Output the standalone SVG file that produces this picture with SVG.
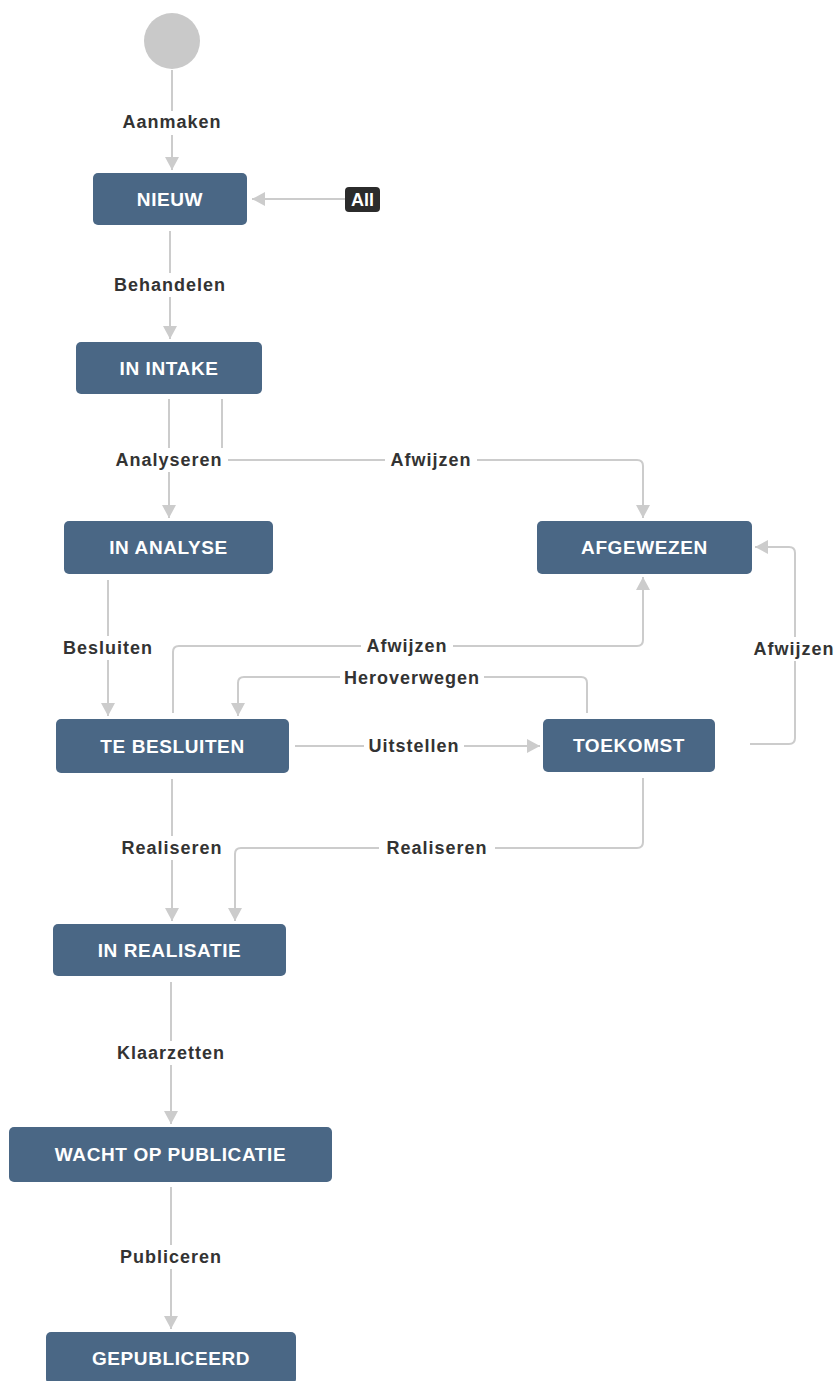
<svg xmlns="http://www.w3.org/2000/svg" width="838" height="1381" viewBox="0 0 838 1381">
<style>
.node rect{fill:#4a6785;}
.node text{fill:#fff;font-family:"Liberation Sans",Arial,sans-serif;font-weight:bold;font-size:19px;letter-spacing:0.6px;text-anchor:middle;}
.edge{fill:none;stroke:#cccccc;stroke-width:2;}
.lbl rect{fill:#fff;}
.lbl text{fill:#333;font-family:"Liberation Sans",Arial,sans-serif;font-weight:bold;font-size:18px;letter-spacing:1px;text-anchor:middle;}
</style>
<defs>
<marker id="arr" markerUnits="userSpaceOnUse" markerWidth="13" markerHeight="14" viewBox="0 0 13 14" refX="13" refY="7" orient="auto">
<path d="M0,0 L13,7 L0,14 z" fill="#cccccc"/>
</marker>
</defs>
<rect width="838" height="1381" fill="#fff"/>

<g id="connectors">
<path class="edge" d="M172,70 V170" marker-end="url(#arr)"/>
<path class="edge" d="M345,199 H252" marker-end="url(#arr)"/>
<path class="edge" d="M170,231 V339" marker-end="url(#arr)"/>
<path class="edge" d="M169,399 V518" marker-end="url(#arr)"/>
<path class="edge" d="M222,399 V460 H637 Q643,460 643,466 V518" marker-end="url(#arr)"/>
<path class="edge" d="M108,580 V716" marker-end="url(#arr)"/>
<path class="edge" d="M173,713 V652 Q173,646 179,646 H637 Q643,646 643,640 V577" marker-end="url(#arr)"/>
<path class="edge" d="M587,713 V683 Q587,677 581,677 H244 Q238,677 238,683 V716" marker-end="url(#arr)"/>
<path class="edge" d="M295,746 H540" marker-end="url(#arr)"/>
<path class="edge" d="M750,744 H789 Q795,744 795,738 V553 Q795,547 789,547 H755" marker-end="url(#arr)"/>
<path class="edge" d="M172,779 V921" marker-end="url(#arr)"/>
<path class="edge" d="M643,778 V842 Q643,848 637,848 H241 Q235,848 235,854 V921" marker-end="url(#arr)"/>
<path class="edge" d="M171,982 V1124" marker-end="url(#arr)"/>
<path class="edge" d="M171,1187 V1329" marker-end="url(#arr)"/>
</g>

<g id="labels">
<g class="lbl"><rect x="116" y="111" width="112" height="24"/><text x="172" y="128">Aanmaken</text></g>
<g class="lbl"><rect x="106" y="273" width="128" height="24"/><text x="170" y="291">Behandelen</text></g>
<g class="lbl"><rect x="110" y="448" width="118" height="24"/><text x="169" y="466">Analyseren</text></g>
<g class="lbl"><rect x="385" y="448" width="92" height="24"/><text x="431" y="466">Afwijzen</text></g>
<g class="lbl"><rect x="60" y="636" width="96" height="24"/><text x="108" y="654">Besluiten</text></g>
<g class="lbl"><rect x="361" y="634" width="92" height="24"/><text x="407" y="652">Afwijzen</text></g>
<g class="lbl"><rect x="340" y="666" width="144" height="24"/><text x="412" y="684">Heroverwegen</text></g>
<g class="lbl"><rect x="364" y="734" width="100" height="24"/><text x="414" y="752">Uitstellen</text></g>
<g class="lbl"><rect x="751" y="637" width="86" height="24"/><text x="794" y="655">Afwijzen</text></g>
<g class="lbl"><rect x="114" y="836" width="116" height="24"/><text x="172" y="854">Realiseren</text></g>
<g class="lbl"><rect x="379" y="836" width="116" height="24"/><text x="437" y="854">Realiseren</text></g>
<g class="lbl"><rect x="111" y="1041" width="120" height="24"/><text x="171" y="1059">Klaarzetten</text></g>
<g class="lbl"><rect x="113" y="1245" width="116" height="24"/><text x="171" y="1263">Publiceren</text></g>
</g>

<g id="start"><circle cx="172" cy="41" r="28" fill="#c9c9c9"/></g>
<g id="all"><rect x="345" y="187" width="35" height="25" rx="4" fill="#2b2b2b"/><text x="362.5" y="206" fill="#fff" font-family="Liberation Sans, Arial, sans-serif" font-weight="bold" font-size="18" text-anchor="middle">All</text></g>

<g id="nieuw" class="node"><rect x="93" y="173" width="154" height="52" rx="5"/><text x="170" y="206">NIEUW</text></g>
<g id="in-intake" class="node"><rect x="76" y="342" width="186" height="52" rx="5"/><text x="169" y="375">IN INTAKE</text></g>
<g id="in-analyse" class="node"><rect x="64" y="521" width="209" height="53" rx="5"/><text x="168.5" y="554">IN ANALYSE</text></g>
<g id="afgewezen" class="node"><rect x="537" y="521" width="215" height="53" rx="5"/><text x="644.5" y="554">AFGEWEZEN</text></g>
<g id="te-besluiten" class="node"><rect x="56" y="719" width="233" height="54" rx="5"/><text x="172.5" y="753">TE BESLUITEN</text></g>
<g id="toekomst" class="node"><rect x="543" y="719" width="172" height="53" rx="5"/><text x="629" y="752">TOEKOMST</text></g>
<g id="in-realisatie" class="node"><rect x="53" y="924" width="233" height="52" rx="5"/><text x="169.5" y="957">IN REALISATIE</text></g>
<g id="wacht-op-publicatie" class="node"><rect x="9" y="1127" width="323" height="55" rx="5"/><text x="170.5" y="1161">WACHT OP PUBLICATIE</text></g>
<g id="gepubliceerd" class="node"><rect x="46" y="1332" width="250" height="52" rx="5"/><text x="171" y="1365">GEPUBLICEERD</text></g>
</svg>
